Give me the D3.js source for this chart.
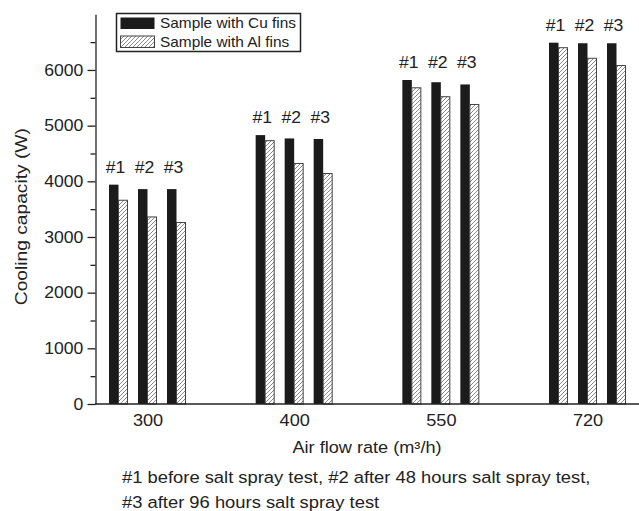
<!DOCTYPE html>
<html>
<head>
<meta charset="utf-8">
<script src="https://cdn.jsdelivr.net/npm/d3@7"></script>
<style>
  body { margin: 0; background: #fff; }
  svg { display: block; font-family: "Liberation Sans", Arial, sans-serif; }
  text { fill: #222; }
</style>
</head>
<body>
<div id="root"></div>
<script>
const flowRates = ["300", "400", "550", "720"];
const testLabels = ["#1", "#2", "#3"];
// cooling capacity (W), one row per air flow rate, columns #1 #2 #3
const cuFins = [
  [3940, 3860, 3860],
  [4830, 4770, 4760],
  [5820, 5780, 5740],
  [6490, 6480, 6480]
];
const alFins = [
  [3660, 3360, 3260],
  [4730, 4320, 4140],
  [5680, 5520, 5380],
  [6400, 6210, 6080]
];
const seriesNames = ["Sample with Cu fins", "Sample with Al fins"];
const yTicks = [0, 1000, 2000, 3000, 4000, 5000, 6000];
const yMinorTicks = [500, 1500, 2500, 3500, 4500, 5500, 6500];
const noteLines = [
  "#1 before salt spray test, #2 after 48 hours salt spray test,",
  "#3 after 96 hours salt spray test"
];

let width = 639;
let height = 511;
let stretch = 1.1; // the text in the figure is a bit wider than Arial

let svg = d3.select("#root")
  .append("svg")
  .attr("width", width)
  .attr("height", height);

let defs = svg.append("defs");
let pat = defs.append("pattern")
  .attr("id", "hatch")
  .attr("patternUnits", "userSpaceOnUse")
  .attr("width", 4)
  .attr("height", 4);
pat.append("rect").attr("width", 4).attr("height", 4).attr("fill", "#fff");
pat.append("path")
  .attr("d", "M-1,1 l2,-2 M0,4 l4,-4 M3,5 l2,-2")
  .attr("stroke", "#7a7a7a")
  .attr("stroke-width", 0.9);

const addText = (parent, x, y, str, size, anchor) => {
  return parent.append("text")
    .attr("transform", "translate(" + x + "," + y + ") scale(" + stretch + ",1)")
    .attr("font-size", size)
    .attr("text-anchor", anchor)
    .text(str);
};

let y = d3.scaleLinear().domain([0, 7000]).range([404, 14.3]);

let x0 = d3.scalePoint().domain(flowRates).range([147.5, 587.5]);

let x1 = d3.scaleBand()
  .domain(testLabels)
  .range([-38.5, 38.5])
  .paddingInner(0.345);

let bw = x1.bandwidth() / 2;

let rows = [];
flowRates.forEach(function(f, i) {
  testLabels.forEach(function(t, j) {
    rows.push({ flow: f, test: t, cu: cuFins[i][j], al: alFins[i][j] });
  });
});

let g = svg.append("g");

// Cu bars (solid)
g.append("g")
  .selectAll("rect")
  .data(rows)
  .enter()
  .append("rect")
  .attr("x", function(d) { return x0(d.flow) + x1(d.test); })
  .attr("y", function(d) { return y(d.cu); })
  .attr("width", bw)
  .attr("height", function(d) { return y(0) - y(d.cu); })
  .attr("fill", "#1b1b1b");

// Al bars (hatched)
g.append("g")
  .selectAll("rect")
  .data(rows)
  .enter()
  .append("rect")
  .attr("x", function(d) { return x0(d.flow) + x1(d.test) + bw; })
  .attr("y", function(d) { return y(d.al); })
  .attr("width", bw - 0.5)
  .attr("height", function(d) { return y(0) - y(d.al); })
  .attr("fill", "url(#hatch)")
  .attr("stroke", "#444")
  .attr("stroke-width", 1);

// #1 #2 #3 above each group
let labels = g.append("g");
flowRates.forEach(function(f, i) {
  let top = d3.max(cuFins[i].concat(alFins[i]));
  testLabels.forEach(function(t) {
    addText(labels, x0(f) + x1(t) + bw - 3, y(top) - 12, t, 16, "middle");
  });
});

// axes
let yAxis = svg.append("g")
  .attr("transform", "translate(95.5,0)")
  .call(d3.axisLeft(y).tickValues(yTicks).tickFormat(d3.format("d"))
    .tickSize(8).tickSizeOuter(0).tickPadding(3));
yAxis.selectAll("text")
  .attr("font-size", 16)
  .attr("font-family", "Liberation Sans, Arial, sans-serif")
  .attr("transform", "scale(" + stretch + ",1)");

svg.append("g")
  .attr("transform", "translate(95.5,0)")
  .call(d3.axisLeft(y).tickValues(yMinorTicks).tickSize(5).tickFormat(""))
  .select(".domain").remove();

let xAxis = svg.append("g")
  .attr("transform", "translate(0," + y(0) + ")")
  .call(d3.axisBottom(x0).tickSize(0).tickPadding(10.5));
xAxis.select(".domain").remove();
xAxis.selectAll("text")
  .attr("font-size", 16.5)
  .attr("font-family", "Liberation Sans, Arial, sans-serif")
  .attr("transform", "scale(" + stretch + ",1)");

svg.append("line")
  .attr("x1", 95)
  .attr("x2", width)
  .attr("y1", y(0))
  .attr("y2", y(0))
  .attr("stroke", "#222")
  .attr("stroke-width", 1.3);

svg.selectAll(".domain, .tick line")
  .attr("stroke", "#222")
  .attr("stroke-width", 1.3);

// axis titles
svg.append("text")
  .attr("transform", "translate(27,216.7) rotate(-90) scale(1.2,1)")
  .attr("font-size", 16)
  .attr("text-anchor", "middle")
  .text("Cooling capacity (W)");

addText(svg, 367, 453.3, "Air flow rate (m³/h)", 16.5, "middle");

// note under the chart
noteLines.forEach(function(line, i) {
  addText(svg, 122, 483 + i * 24.5, line, 16.7, "start");
});

// legend
let legend = svg.append("g");
legend.append("rect")
  .attr("x", 116.5)
  .attr("y", 13.5)
  .attr("width", 184)
  .attr("height", 38)
  .attr("fill", "#fff")
  .attr("stroke", "#222")
  .attr("stroke-width", 1.5);

seriesNames.forEach(function(name, i) {
  legend.append("rect")
    .attr("x", 120.5)
    .attr("y", 17.5 + i * 18.5)
    .attr("width", 34)
    .attr("height", 11.5)
    .attr("fill", i === 0 ? "#1b1b1b" : "url(#hatch)")
    .attr("stroke", i === 0 ? "none" : "#444");
  addText(legend, 160, 28.3 + i * 18.4, name, 14, "start");
});
</script>
</body>
</html>
